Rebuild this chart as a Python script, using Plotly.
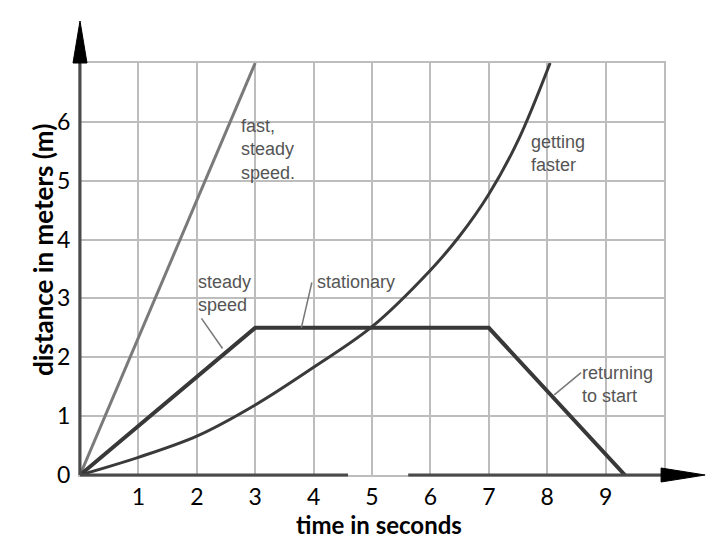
import plotly.graph_objects as go

# distance-time data (time in s, distance in m)
fast_t = [0, 3]
fast_d = [0, 7]
steady_t = [0, 3, 7, 9.33]
steady_d = [0, 2.5, 2.5, 0]
faster_t = [0, 1, 2, 3, 4, 5, 6, 6.5, 7, 7.5, 8.05]
faster_d = [0, 0.3, 0.66, 1.19, 1.83, 2.52, 3.48, 4.06, 4.77, 5.68, 7.0]

x_ticks = list(range(0, 11))
x_text = ["", "1", "2", "3", "4", "5", "6", "7", "8", "9", ""]
y_ticks = list(range(0, 8))
y_text = ["0", "1", "2", "3", "4", "5", "6", ""]

# text labels and their pointer lines
labels = [
    ("fast,<br>steady<br>speed.", 2.72, 6.14),
    ("getting<br>faster", 7.68, 5.87),
    ("steady<br>speed", 1.99, 3.48),
    ("stationary", 4.02, 3.48),
    ("returning<br>to start", 8.57, 1.94),
]
pointers = [
    ([2.08, 2.44], [2.66, 2.15]),
    ([3.97, 3.79], [3.27, 2.5]),
    ([8.58, 8.12], [1.74, 1.36]),
]

# the page puts the figure 8px in from the top-left corner
W, H = 712, 532
X0, X1 = 72 / W, 656 / W
Y0, Y1 = (H - 467) / H, (H - 55) / H

fig = go.Figure()
fig.add_trace(go.Scatter(x=fast_t, y=fast_d, mode="lines",
                         line=dict(color="#7a7a7a", width=3)))
fig.add_trace(go.Scatter(x=faster_t, y=faster_d, mode="lines",
                         line=dict(color="#3a3a3a", width=3, shape="spline")))
fig.add_trace(go.Scatter(x=steady_t, y=steady_d, mode="lines",
                         line=dict(color="#383838", width=4)))
for lx_, ly_ in pointers:
    fig.add_trace(go.Scatter(x=lx_, y=ly_, mode="lines",
                             line=dict(color="#777777", width=1.5)))

for txt, lx, ly in labels:
    fig.add_annotation(x=lx, y=ly, text=txt, showarrow=False, xanchor="left",
                       yanchor="top", align="left",
                       font=dict(family="Liberation Sans", size=18, color="#555555"))


def px(v):
    return X0 + v / 10 * (X1 - X0)


def py(v):
    return Y0 + v / 7 * (Y1 - Y0)


# axis lines (with the gap in the x axis) and arrowheads
axis_col = "#4a4a4a"
fig.add_shape(type="line", xref="paper", yref="paper", x0=px(0), x1=px(0),
              y0=py(0), y1=py(7), line=dict(color=axis_col, width=3))
fig.add_shape(type="line", xref="paper", yref="paper", x0=px(0), x1=px(4.59),
              y0=py(0), y1=py(0), line=dict(color=axis_col, width=3))
fig.add_shape(type="line", xref="paper", yref="paper", x0=px(5.62), x1=px(9.95),
              y0=py(0), y1=py(0), line=dict(color=axis_col, width=3))
ux, uy = 1 / W, 1 / H
fig.add_shape(type="path", xref="paper", yref="paper",
              path=f"M {px(0) - 7 * ux} {py(7)} L {px(0) + 7 * ux} {py(7)} "
                   f"L {px(0)} {py(7) + 42 * uy} Z",
              fillcolor="black", line=dict(color="black", width=1))
fig.add_shape(type="path", xref="paper", yref="paper",
              path=f"M {px(9.95)} {py(0) + 7 * uy} L {px(9.95)} {py(0) - 7 * uy} "
                   f"L {px(9.95) + 44 * ux} {py(0)} Z",
              fillcolor="black", line=dict(color="black", width=1))

fig.add_annotation(xref="paper", yref="paper", x=35 / W, y=(H - 242) / H,
                   xanchor="center", yanchor="middle",
                   text="<b>distance in meters (m)</b>", textangle=-90,
                   showarrow=False,
                   font=dict(family="Lato", size=26, color="black"))
fig.add_annotation(xref="paper", yref="paper", x=371 / W, y=(H - 516) / H,
                   xanchor="center", yanchor="middle",
                   text="<b>time in seconds</b>", showarrow=False,
                   font=dict(family="Lato", size=24, color="black"))

grid = "#bdbdbd"
fig.update_xaxes(domain=[X0, X1], range=[0, 10], tickvals=x_ticks, ticktext=x_text,
                 showgrid=True, gridcolor=grid, gridwidth=2, zeroline=False,
                 showline=True, mirror=True, linecolor=grid, linewidth=2,
                 ticks="", ticklabelstandoff=0, automargin=False,
                 tickfont=dict(family="Lato", size=23, color="black"))
fig.update_yaxes(domain=[Y0, Y1], range=[0, 7], tickvals=y_ticks, ticktext=y_text,
                 showgrid=True, gridcolor=grid, gridwidth=2, zeroline=False,
                 showline=True, mirror=True, linecolor=grid, linewidth=2,
                 ticks="", ticklabelstandoff=3, automargin=False,
                 tickfont=dict(family="Lato", size=23, color="black"))
fig.update_layout(width=W, height=H, margin=dict(l=0, r=0, t=0, b=0),
                  plot_bgcolor="white", paper_bgcolor="white", showlegend=False)

fig.write_html("out.html")
